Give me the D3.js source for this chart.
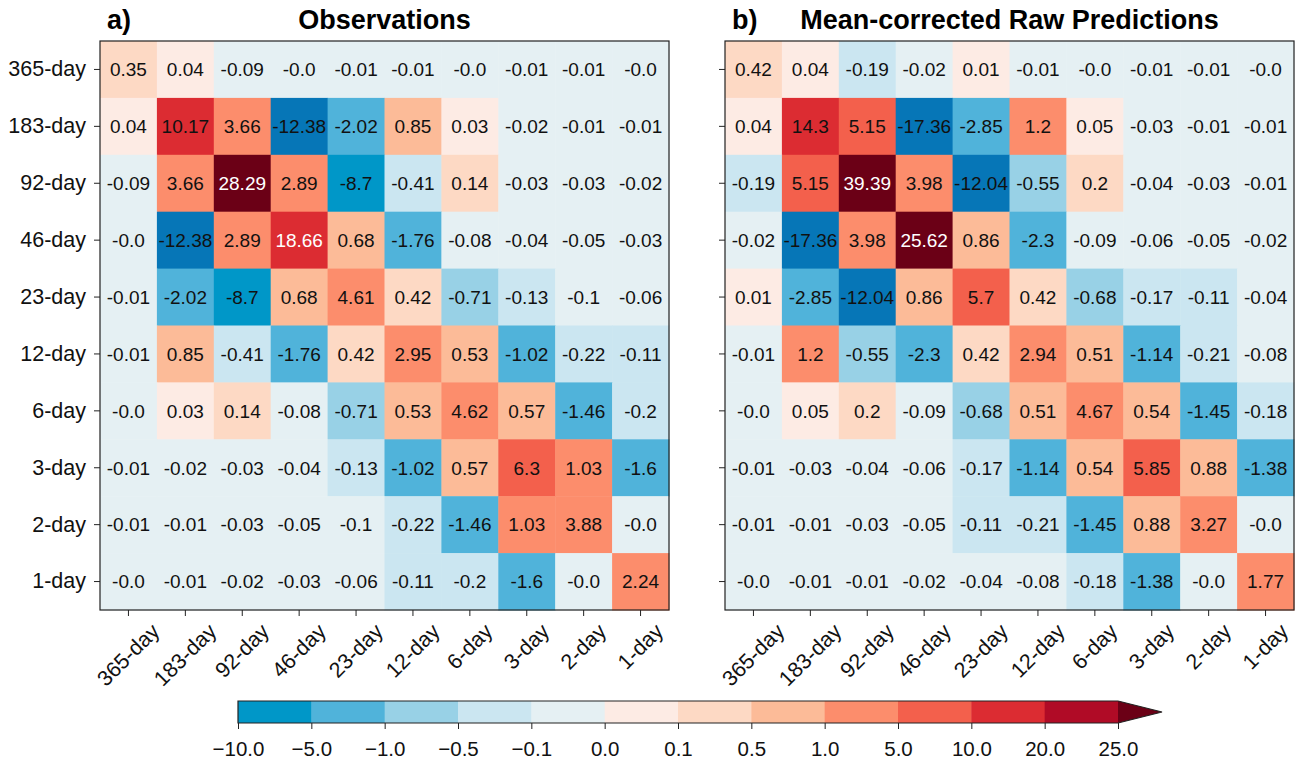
<!DOCTYPE html>
<html>
<head>
<meta charset="utf-8">
<script src="https://cdn.jsdelivr.net/npm/d3@7"></script>
<style>
  body { margin: 0; background: #fff; }
  svg { display: block; font-family: "Liberation Sans", Arial, sans-serif; }
  .axis path, .axis line { stroke: #222; }
</style>
</head>
<body>
<svg width="1295" height="763"></svg>
<script>
// ---- data ----
var rowLabels = ["365-day", "183-day", "92-day", "46-day", "23-day", "12-day", "6-day", "3-day", "2-day", "1-day"];
var colLabels = ["365-day", "183-day", "92-day", "46-day", "23-day", "12-day", "6-day", "3-day", "2-day", "1-day"];

var obsValues = [
    [0.35, 0.04, -0.09, -0.0, -0.01, -0.01, -0.0, -0.01, -0.01, -0.0],
    [0.04, 10.17, 3.66, -12.38, -2.02, 0.85, 0.03, -0.02, -0.01, -0.01],
    [-0.09, 3.66, 28.29, 2.89, -8.7, -0.41, 0.14, -0.03, -0.03, -0.02],
    [-0.0, -12.38, 2.89, 18.66, 0.68, -1.76, -0.08, -0.04, -0.05, -0.03],
    [-0.01, -2.02, -8.7, 0.68, 4.61, 0.42, -0.71, -0.13, -0.1, -0.06],
    [-0.01, 0.85, -0.41, -1.76, 0.42, 2.95, 0.53, -1.02, -0.22, -0.11],
    [-0.0, 0.03, 0.14, -0.08, -0.71, 0.53, 4.62, 0.57, -1.46, -0.2],
    [-0.01, -0.02, -0.03, -0.04, -0.13, -1.02, 0.57, 6.3, 1.03, -1.6],
    [-0.01, -0.01, -0.03, -0.05, -0.1, -0.22, -1.46, 1.03, 3.88, -0.0],
    [-0.0, -0.01, -0.02, -0.03, -0.06, -0.11, -0.2, -1.6, -0.0, 2.24]
];

var predValues = [
    [0.42, 0.04, -0.19, -0.02, 0.01, -0.01, -0.0, -0.01, -0.01, -0.0],
    [0.04, 14.3, 5.15, -17.36, -2.85, 1.2, 0.05, -0.03, -0.01, -0.01],
    [-0.19, 5.15, 39.39, 3.98, -12.04, -0.55, 0.2, -0.04, -0.03, -0.01],
    [-0.02, -17.36, 3.98, 25.62, 0.86, -2.3, -0.09, -0.06, -0.05, -0.02],
    [0.01, -2.85, -12.04, 0.86, 5.7, 0.42, -0.68, -0.17, -0.11, -0.04],
    [-0.01, 1.2, -0.55, -2.3, 0.42, 2.94, 0.51, -1.14, -0.21, -0.08],
    [-0.0, 0.05, 0.2, -0.09, -0.68, 0.51, 4.67, 0.54, -1.45, -0.18],
    [-0.01, -0.03, -0.04, -0.06, -0.17, -1.14, 0.54, 5.85, 0.88, -1.38],
    [-0.01, -0.01, -0.03, -0.05, -0.11, -0.21, -1.45, 0.88, 3.27, -0.0],
    [-0.0, -0.01, -0.01, -0.02, -0.04, -0.08, -0.18, -1.38, -0.0, 1.77]
];

var panelTitles = ["Observations", "Mean-corrected Raw Predictions"];
var panelTags = ["a)", "b)"];

var cbBounds = [-10, -5, -1, -0.5, -0.1, 0, 0.1, 0.5, 1, 5, 10, 20, 25];
var cbColors = ["#0097c8", "#50b3da", "#98d1e6", "#cbe6f1", "#e5f0f3",
                "#fdebe4", "#fdd9c4", "#fcbb98", "#fc8d6c", "#f3604c",
                "#dc2c32", "#b00b26"];
var underColor = "#0676b7",
    overColor = "#6b0016";

(function () {
    var svg = d3.select("svg");
    var size = 569, top = 41;
    var panelLeft = [100, 725];

    var color = d3.scaleThreshold()
        .domain(cbBounds)
        .range([underColor].concat(cbColors, [overColor]));

    // -0.0 cells are small negatives
    function colorValue(v) { return Object.is(v, -0) ? -1e-9 : v; }
    function fmt(v) { return Object.is(v, -0) ? "-0.0" : String(v); }

    function drawPanel(i, values) {
        var x = d3.scaleBand().domain(colLabels).range([panelLeft[i], panelLeft[i] + size]);
        var y = d3.scaleBand().domain(rowLabels).range([top, top + size]);
        var g = svg.append("g");

        var cells = [];
        values.forEach(function (row, r) {
            row.forEach(function (v, c) {
                cells.push({row: rowLabels[r], col: colLabels[c], v: v});
            });
        });

        g.selectAll("rect.cell").data(cells).enter().append("rect")
            .attr("class", "cell")
            .attr("x", function (d) { return x(d.col); })
            .attr("y", function (d) { return y(d.row); })
            .attr("width", x.bandwidth() + 0.5)
            .attr("height", y.bandwidth() + 0.5)
            .attr("fill", function (d) { return color(colorValue(d.v)); });

        g.selectAll("text.val").data(cells).enter().append("text")
            .attr("class", "val")
            .attr("x", function (d) { return x(d.col) + x.bandwidth() / 2; })
            .attr("y", function (d) { return y(d.row) + y.bandwidth() / 2; })
            .attr("text-anchor", "middle")
            .attr("dy", "0.36em")
            .style("font-size", "19px")
            .attr("fill", function (d) { return d.v >= 15 ? "#fff" : "#111"; })
            .text(function (d) { return fmt(d.v); });

        // frame
        g.append("rect")
            .attr("x", panelLeft[i]).attr("y", top)
            .attr("width", size).attr("height", size)
            .attr("fill", "none").attr("stroke", "#222").attr("stroke-width", 1.2);

        // y axis
        var ya = g.append("g").attr("class", "axis")
            .attr("transform", "translate(" + panelLeft[i] + ",0)")
            .call(d3.axisLeft(y).tickSize(6).tickPadding(8).tickSizeOuter(0));
        ya.select(".domain").remove();
        ya.selectAll("text").style("font-size", "21.5px").attr("fill", "#111");
        if (i === 1) ya.selectAll("text").remove();

        // x axis with rotated labels
        var xa = g.append("g").attr("class", "axis")
            .attr("transform", "translate(0," + (top + size) + ")")
            .call(d3.axisBottom(x).tickSize(6).tickSizeOuter(0));
        xa.select(".domain").remove();
        xa.selectAll("text").each(function () {
            var t = d3.select(this);
            t.attr("y", null).attr("dy", null)
                .style("font-size", "21.5px").attr("fill", "#111")
                .attr("text-anchor", "middle")
                .attr("dominant-baseline", "central");
            var L = this.getComputedTextLength();
            var half = (L + 16) * Math.SQRT1_2 / 2;
            t.attr("transform", "translate(0," + (12 + half) + ") rotate(-45)");
        });

        // titles
        g.append("text")
            .attr("x", panelLeft[i] + size / 2).attr("y", 29)
            .attr("text-anchor", "middle")
            .style("font-size", "27px").style("font-weight", "bold")
            .text(panelTitles[i]);
        g.append("text")
            .attr("x", panelLeft[i] + 7).attr("y", 29)
            .style("font-size", "27px").style("font-weight", "bold")
            .text(panelTags[i]);
    }

    drawPanel(0, obsValues);
    drawPanel(1, predValues);

    // ---- colorbar ----
    var cbTop = 701, cbH = 22;
    var cb = d3.scalePoint().domain(cbBounds).range([238, 1118]);
    var cbg = svg.append("g");
    var segs = cbColors.map(function (c, k) { return {a: cbBounds[k], b: cbBounds[k + 1], c: c}; });

    cbg.selectAll("rect").data(segs).enter().append("rect")
        .attr("x", function (d) { return cb(d.a); })
        .attr("y", cbTop)
        .attr("width", function (d) { return cb(d.b) - cb(d.a) + 0.5; })
        .attr("height", cbH)
        .attr("fill", function (d) { return d.c; });

    var x25 = cb(cbBounds[cbBounds.length - 1]);
    cbg.append("path")
        .attr("d", "M" + x25 + "," + cbTop + "L" + (x25 + 44) + "," + (cbTop + cbH / 2) + "L" + x25 + "," + (cbTop + cbH) + "Z")
        .attr("fill", overColor);

    cbg.append("path")
        .attr("d", "M" + x25 + "," + cbTop + "L238," + cbTop + "L238," + (cbTop + cbH) + "L" + x25 + "," + (cbTop + cbH)
            + "M" + x25 + "," + cbTop + "L" + (x25 + 44) + "," + (cbTop + cbH / 2) + "L" + x25 + "," + (cbTop + cbH))
        .attr("fill", "none").attr("stroke", "#222").attr("stroke-width", 1.2);

    var cba = cbg.append("g").attr("class", "axis")
        .attr("transform", "translate(0," + (cbTop + cbH) + ")")
        .call(d3.axisBottom(cb).tickSize(6).tickPadding(12)
            .tickFormat(function (d) { return d3.format(".1f")(d).replace("-", "\u2212"); }));
    cba.select(".domain").remove();
    cba.selectAll("text").style("font-size", "20.5px").attr("fill", "#111");
})();
</script>
</body>
</html>
